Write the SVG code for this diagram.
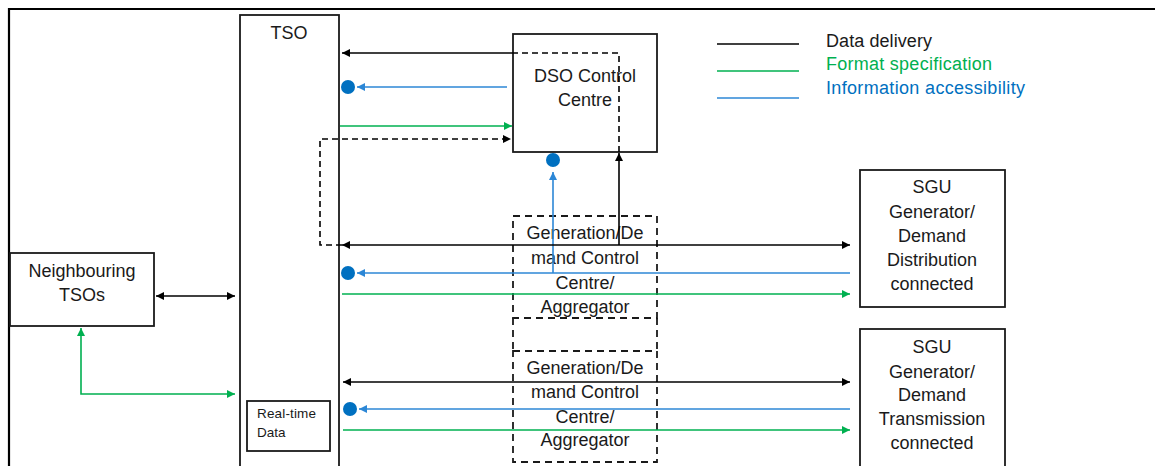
<svg xmlns="http://www.w3.org/2000/svg" width="1155" height="466" viewBox="0 0 1155 466">
<style>
.box{fill:#fff;stroke:#1a1a1a;stroke-width:1.8}
.dbox{fill:none;stroke:#1a1a1a;stroke-width:1.8;stroke-dasharray:7,5}
.t{font-family:"Liberation Sans",Arial,sans-serif;font-size:18px;fill:#1a1a1a;text-anchor:middle}
.k{fill:none;stroke:#000;stroke-width:1.6}
.g{fill:none;stroke:#00B050;stroke-width:1.6}
.b{fill:none;stroke:#2C87D6;stroke-width:1.6}
.dash{stroke-dasharray:6,4}
.dot{fill:#0070C0}
</style>
<defs>
<marker id="ak" viewBox="0 0 10 10" refX="10" refY="5" markerWidth="9" markerHeight="8" markerUnits="userSpaceOnUse" orient="auto-start-reverse"><path d="M0,0L10,5L0,10z" fill="#000"/></marker>
<marker id="ag" viewBox="0 0 10 10" refX="10" refY="5" markerWidth="9" markerHeight="8" markerUnits="userSpaceOnUse" orient="auto-start-reverse"><path d="M0,0L10,5L0,10z" fill="#00B050"/></marker>
<marker id="ab" viewBox="0 0 10 10" refX="10" refY="5" markerWidth="9" markerHeight="8" markerUnits="userSpaceOnUse" orient="auto-start-reverse"><path d="M0,0L10,5L0,10z" fill="#2C87D6"/></marker>
</defs>
<rect width="1155" height="466" fill="#fff"/>
<path d="M9,470V9H1155" fill="none" stroke="#000" stroke-width="2.2"/>

<g id="tso"><rect class="box" x="240" y="15" width="99" height="460"/><text class="t" x="289" y="39">TSO</text></g>
<g id="realtime"><rect class="box" x="247" y="401" width="83" height="50"/><text class="t" x="257" y="418" style="font-size:13.5px;text-anchor:start" textLength="59">Real-time</text><text class="t" x="257" y="437" style="font-size:13.5px;text-anchor:start">Data</text></g>
<g id="dso"><rect class="box" x="513" y="34" width="144" height="118"/><text class="t" x="585" y="82">DSO Control</text><text class="t" x="585" y="106">Centre</text></g>
<g id="neighbour"><rect class="box" x="10" y="253" width="144" height="73"/><text class="t" x="82" y="277">Neighbouring</text><text class="t" x="82" y="301">TSOs</text></g>
<g id="gen1"><rect class="dbox" x="513" y="216" width="144" height="102"/><path class="dbox" d="M513,318V351M657,318V351"/>
<text class="t" x="585" y="239">Generation/De</text><text class="t" x="585" y="264">mand Control</text><text class="t" x="585" y="289">Centre/</text><text class="t" x="585" y="313">Aggregator</text></g>
<g id="gen2"><rect class="dbox" x="513" y="351" width="144" height="111"/>
<text class="t" x="585" y="374">Generation/De</text><text class="t" x="585" y="398">mand Control</text><text class="t" x="585" y="423">Centre/</text><text class="t" x="585" y="446">Aggregator</text></g>
<g id="sgu1"><rect class="box" x="860" y="170" width="145" height="137"/>
<text class="t" x="932" y="193">SGU</text><text class="t" x="932" y="218">Generator/</text><text class="t" x="932" y="242">Demand</text><text class="t" x="932" y="266">Distribution</text><text class="t" x="932" y="290">connected</text></g>
<g id="sgu2"><rect class="box" x="860" y="329" width="145" height="150"/>
<text class="t" x="932" y="353">SGU</text><text class="t" x="932" y="378">Generator/</text><text class="t" x="932" y="401">Demand</text><text class="t" x="932" y="425">Transmission</text><text class="t" x="932" y="449">connected</text></g>

<g id="legend">
<line class="k" x1="717" y1="44" x2="799" y2="44"/>
<line class="g" x1="717" y1="71" x2="799" y2="71"/>
<line class="b" x1="717" y1="98" x2="799" y2="98"/>
<text class="t" x="826" y="47" style="text-anchor:start" textLength="106">Data delivery</text>
<text class="t" x="826" y="70" style="text-anchor:start;fill:#00B050" textLength="166">Format specification</text>
<text class="t" x="826" y="94" style="text-anchor:start;fill:#0070C0" textLength="199">Information accessibility</text>
</g>

<g id="connectors">
<path class="k" d="M512,53H342" marker-end="url(#ak)"/>
<path class="k dash" d="M512,53H619V152"/>
<path class="b" d="M507,87H357" marker-end="url(#ab)"/>
<circle class="dot" cx="348" cy="87" r="7"/>
<path class="g" d="M340,126H512" marker-end="url(#ag)"/>
<path class="k dash" d="M342,245H320V139H511" marker-end="url(#ak)"/>
<path class="k" d="M619,245V153" marker-end="url(#ak)"/>
<path class="b" d="M553,273V172" marker-end="url(#ab)"/>
<circle class="dot" cx="553" cy="160" r="7"/>
<path class="k" d="M342,245H850" marker-start="url(#ak)" marker-end="url(#ak)"/>
<path class="b" d="M850,273H357" marker-end="url(#ab)"/>
<circle class="dot" cx="348" cy="273" r="7"/>
<path class="g" d="M342,294H850" marker-end="url(#ag)"/>
<path class="k" d="M343,382H850" marker-start="url(#ak)" marker-end="url(#ak)"/>
<path class="b" d="M850,409H359" marker-end="url(#ab)"/>
<circle class="dot" cx="350" cy="409" r="7"/>
<path class="g" d="M343,430H850" marker-end="url(#ag)"/>
<path class="k" d="M156,296H235" marker-start="url(#ak)" marker-end="url(#ak)"/>
<path class="g" d="M81,328V394H235" marker-start="url(#ag)" marker-end="url(#ag)"/>
</g>
</svg>
